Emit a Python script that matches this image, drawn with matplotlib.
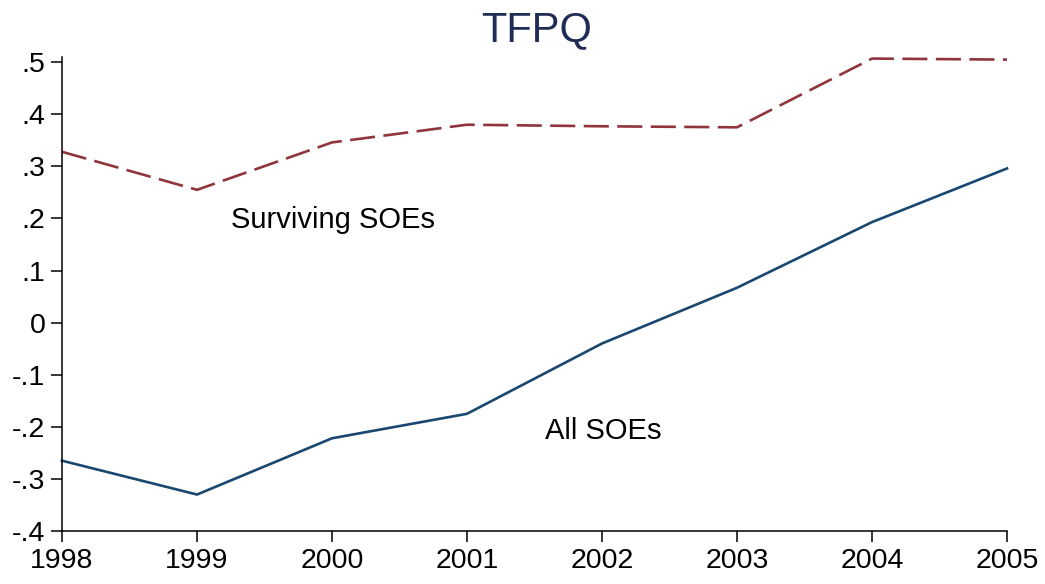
import matplotlib
matplotlib.use("Agg")
import matplotlib.pyplot as plt

years = [1998, 1999, 2000, 2001, 2002, 2003, 2004, 2005]
surviving = [0.328, 0.255, 0.346, 0.380, 0.377, 0.375, 0.507, 0.505]
all_soes = [-0.265, -0.330, -0.222, -0.175, -0.040, 0.067, 0.193, 0.296]
yticks = [-0.4, -0.3, -0.2, -0.1, 0.0, 0.1, 0.2, 0.3, 0.4, 0.5]
ytick_labels = ["-.4", "-.3", "-.2", "-.1", "0", ".1", ".2", ".3", ".4", ".5"]

plt.rcParams['font.family'] = ['Liberation Sans', 'DejaVu Sans']

fig = plt.figure(figsize=(10.45, 5.84), dpi=100)
ax = fig.add_axes([62/1045, 1-531/584, (1007-62)/1045, (531-57)/584])

ax.plot(years, surviving, color='#90353b', lw=1.9, linestyle=(0, (9.5, 3.2)), clip_on=False)
ax.plot(years, all_soes, color='#1a476f', lw=1.9, clip_on=False)

ax.set_xlim(1998, 2005)
ax.set_ylim(-0.4, 0.51)
ax.set_xticks(years)
ax.set_xticklabels([str(y) for y in years])
ax.set_yticks(yticks)
ax.set_yticklabels(ytick_labels)
ax.tick_params(axis='both', labelsize=20.5, length=8, width=1.1, direction='out', colors='black', pad=4)
ax.spines['top'].set_visible(False)
ax.spines['right'].set_visible(False)
for s in ['left', 'bottom']:
    ax.spines[s].set_linewidth(1.1)

ax.text(1999.25, 0.198, "Surviving SOEs", fontsize=21, va='center', ha='left')
ax.text(2001.58, -0.208, "All SOEs", fontsize=21, va='center', ha='left')

fig.text(537/1045, 1-30/584, "TFPQ", fontsize=30, color='#1f2d56', ha='center', va='center')

fig.savefig("out.png", dpi=100, facecolor='white')
